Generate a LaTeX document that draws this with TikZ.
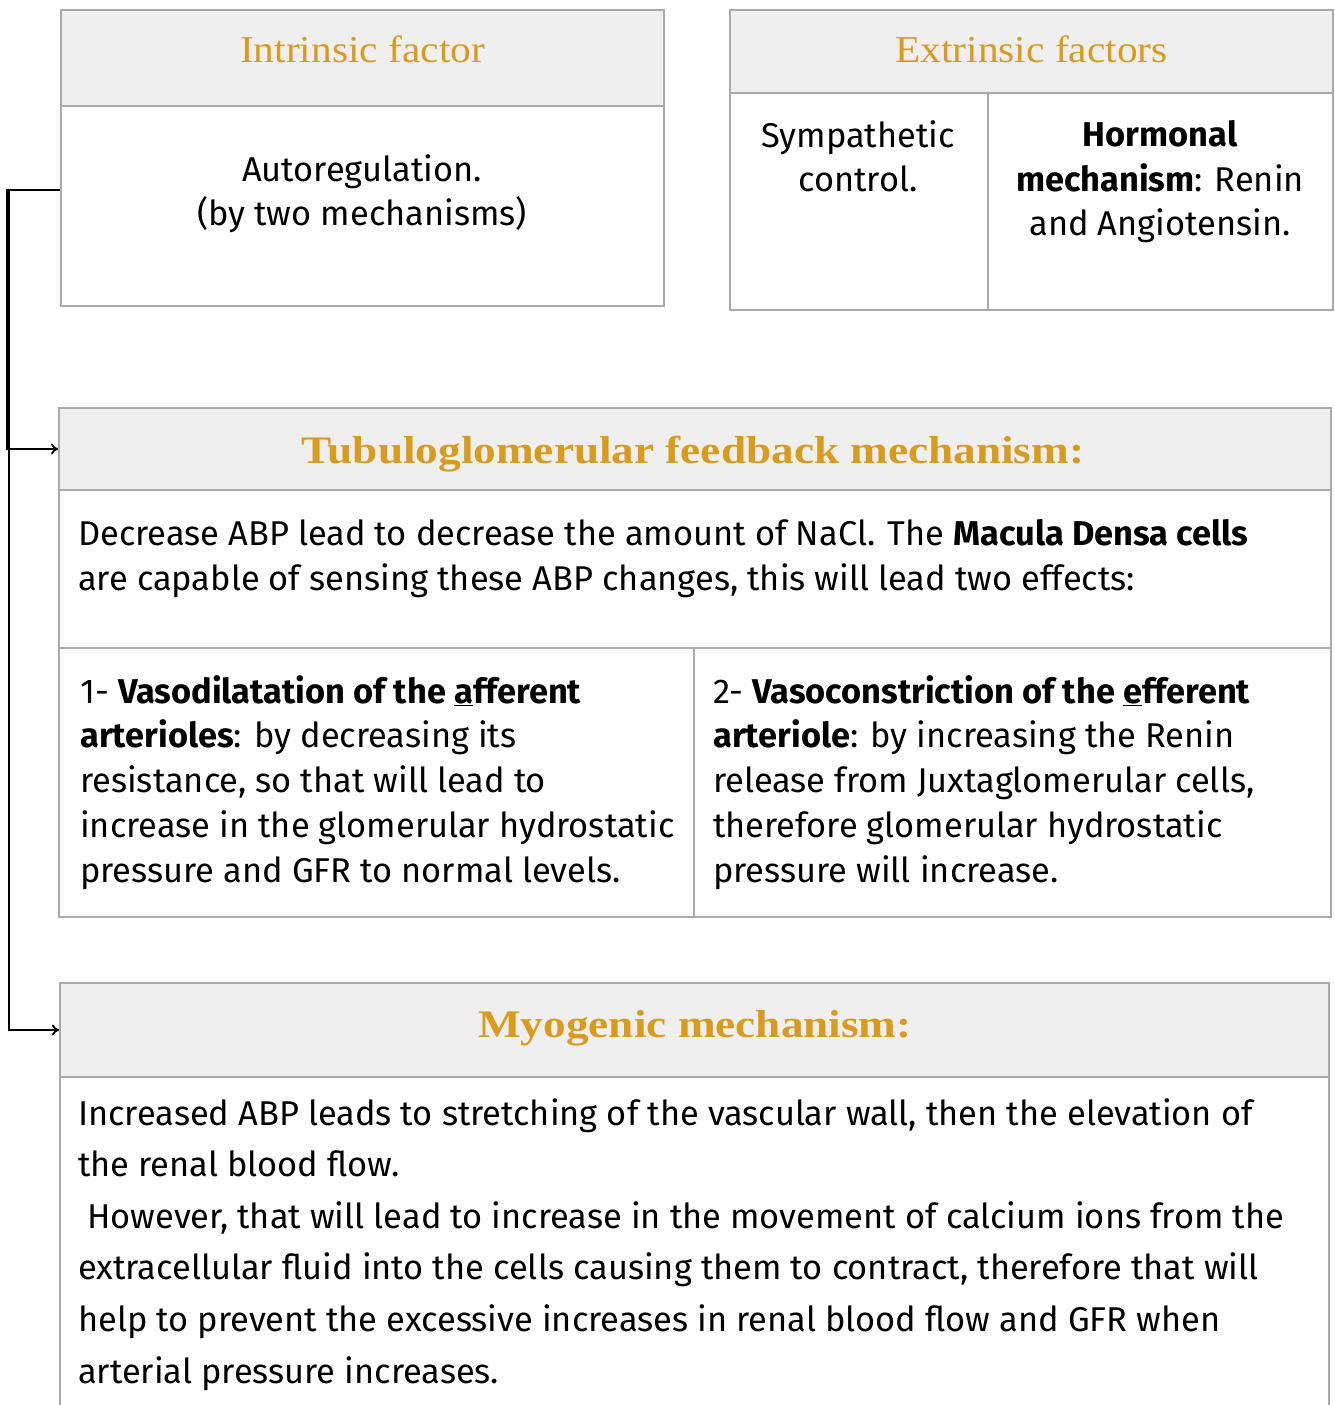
\documentclass[tikz,border=0pt]{standalone}
\usepackage{fontspec}
\setmainfont{Fira Sans}
\newfontfamily\headfont{Liberation Serif}[FakeStretch=1.09]
\newfontfamily\bheadfont{Liberation Serif Bold}[FakeStretch=1.16]
\usetikzlibrary{arrows.meta}

\definecolor{gold}{RGB}{216,155,30}
\definecolor{hdrfill}{RGB}{239,239,239}
\definecolor{rule}{RGB}{170,170,170}

\tikzset{
  frame/.style={draw=rule, line width=2pt, inner sep=0pt},
  hdr/.style={frame, fill=hdrfill},
  cell/.style={frame, fill=white},
  title/.style={inner sep=0pt, anchor=base, text=gold, font=\headfont\fontsize{38}{40}\selectfont},
  btitle/.style={title, font=\bheadfont\fontsize{39}{40}\selectfont},
  txt/.style={inner sep=0pt, align=left, anchor=north west, font=\fontsize{34.4}{44.8}\selectfont},
  ctxt/.style={txt, align=center, anchor=north},
  link/.style={line width=1.8pt, -{To[length=7pt,width=11pt]}}
}

\begin{document}
\begin{tikzpicture}[x=1pt,y=-1pt]
  \useasboundingbox (0,0) rectangle (1335,1405);

  % intrinsic factor
  \node[hdr, minimum width=603pt, minimum height=96pt] (intrH) at (362.5,58) {};
  \node[title] (intrL) at (362.5,63) {Intrinsic factor};
  \node[cell, minimum width=603pt, minimum height=200pt] (intrB) at (362.5,206) {};
  \node[ctxt] (intrT) at (362,154) {Autoregulation.\\(by two mechanisms)};

  % extrinsic factors
  \node[hdr, minimum width=603pt, minimum height=83pt] (extrH) at (1031.5,51.5) {};
  \node[title] (extrL) at (1031.5,63) {Extrinsic factors};
  \node[cell, minimum width=258pt, minimum height=217pt] (sympB) at (859,201.5) {};
  \node[cell, minimum width=345pt, minimum height=217pt] (hormB) at (1160.5,201.5) {};
  \node[ctxt] (sympT) at (858,120) {Sympathetic\\control.};
  \node[ctxt] (hormT) at (1160,120) {\textbf{Hormonal}\\\textbf{mechanism}: Renin\\and Angiotensin.};

  % tubuloglomerular feedback
  \node[hdr, minimum width=1272pt, minimum height=82pt] (tubH) at (695,449) {};
  \node[btitle] (tubL) at (693,463) {Tubuloglomerular feedback mechanism:};
  \node[cell, minimum width=1272pt, minimum height=158pt] (tubB) at (695,569) {};
  \node[txt] (tubT) at (78,519) {Decrease ABP lead to decrease the amount of NaCl. The \textbf{Macula Densa cells}\\are capable of sensing these ABP changes, this will lead two effects:};
  \node[cell, minimum width=635pt, minimum height=269pt] (vasoB) at (376.5,782.5) {};
  \node[cell, minimum width=637pt, minimum height=269pt] (consB) at (1012.5,782.5) {};
  \node[txt] (vasoT) at (80,675) {1- \textbf{Vasodilatation of the \underline{a}fferent}\\\textbf{arterioles}: by decreasing its\\resistance, so that will lead to\\increase in the glomerular hydrostatic\\pressure and GFR to normal levels.};
  \node[txt] (consT) at (713,675) {2- \textbf{Vasoconstriction of the \underline{e}fferent}\\\textbf{arteriole}: by increasing the Renin\\release from Juxtaglomerular cells,\\therefore glomerular hydrostatic\\pressure will increase.};

  % myogenic mechanism
  \node[hdr, minimum width=1269pt, minimum height=94pt] (myoH) at (694.5,1030) {};
  \node[btitle] (myoL) at (695,1037) {Myogenic mechanism:};
  \node[cell, minimum width=1269pt, minimum height=350pt] (myoB) at (694.5,1252) {};
  \node[txt, font=\fontsize{34.4}{51.6}\selectfont] (myoT) at (78,1098) {Increased ABP leads to stretching of the vascular wall, then the elevation of\\the renal blood flow.\\\ However, that will lead to increase in the movement of calcium ions from the\\extracellular fluid into the cells causing them to contract, therefore that will\\help to prevent the excessive increases in renal blood flow and GFR when\\arterial pressure increases.};

  % autoregulation links
  \draw[link] ([yshift=16pt]intrB.west) -- ++(-53,0) |- (tubH.west);
  \draw[link] ([yshift=16pt]intrB.west) -- ++(-51,0) |- (myoH.west);
\end{tikzpicture}
\end{document}
